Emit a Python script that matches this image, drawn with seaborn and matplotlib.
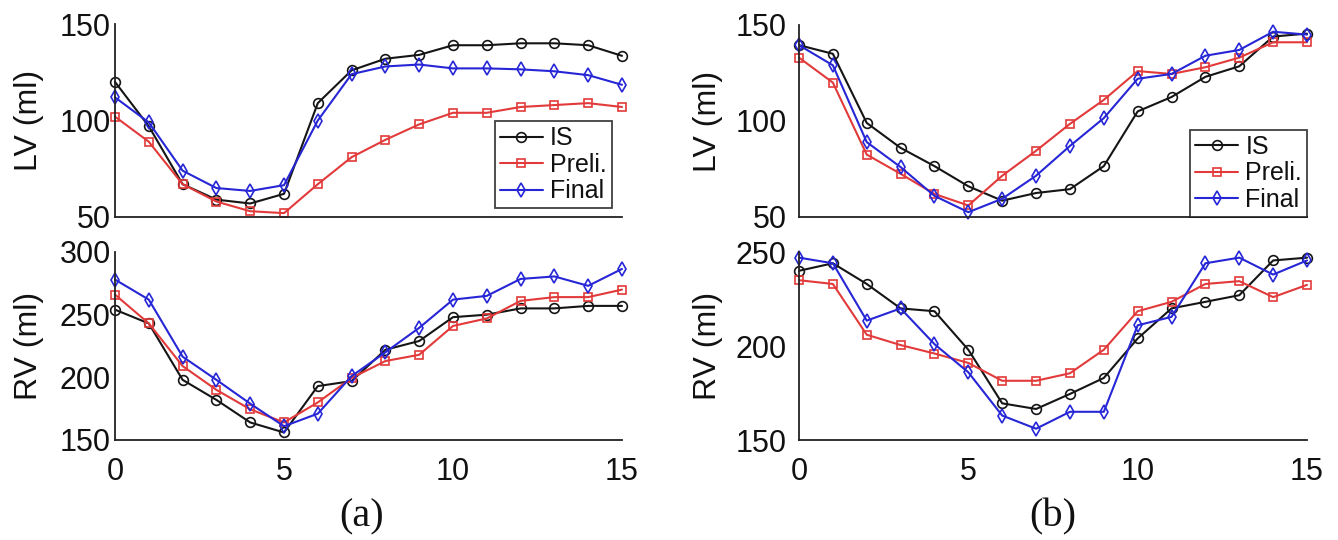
import numpy as np
import pandas as pd
import seaborn as sns
import matplotlib
matplotlib.use("Agg")
import matplotlib.pyplot as plt

# ---------------- data ----------------
frames = list(range(16))
methods = ["IS", "Preli.", "Final"]

a_lv_is = [120, 97, 67, 59, 57, 62, 109, 126, 132, 134, 139, 139, 140, 140, 139, 133.5]
a_lv_pre = [102, 89, 67, 58, 53, 52, 67, 81, 90, 98, 104, 104, 107, 108, 109, 107]
a_lv_fin = [112, 99, 74, 65, 63.5, 66.5, 100, 124, 128, 129, 127, 127, 126.5, 125.5, 123.5, 118.5]

a_rv_is = [254, 243, 198, 182, 164, 156, 193, 197, 222, 229, 248, 250, 255, 255, 257, 257]
a_rv_pre = [266, 243, 209, 190, 174.5, 164, 180, 199.5, 213, 218, 241, 247, 261, 264, 264, 270]
a_rv_fin = [278, 262, 216.5, 198, 179, 161, 171, 201, 220, 239.5, 262, 265, 278.5, 280.5, 273, 286.5]

b_lv_is = [139.5, 135, 99, 86, 76.5, 66, 58.5, 62.5, 64.5, 76.5, 105, 112.5, 123, 128.5, 144, 145.5]
b_lv_pre = [133, 120, 82.5, 72.5, 62, 56, 71.5, 84.5, 98.5, 111, 126, 124.5, 128, 133, 141, 141]
b_lv_fin = [139.5, 129, 89, 76, 61, 52.5, 59.5, 71.5, 87, 101.5, 122, 124.5, 134, 137, 146.5, 145]

b_rv_is = [240, 244, 233, 220, 218.5, 198, 169.5, 166.5, 174.5, 183, 204, 220, 223.5, 227, 245.5, 247]
b_rv_pre = [235, 233, 206, 200.5, 196, 191, 181.5, 181.5, 185.5, 198, 218.5, 223.5, 233, 234.5, 226, 232.5]
b_rv_fin = [247, 244, 213.5, 220, 201, 186, 163, 156, 165, 165, 211, 215.5, 244, 247, 238, 245.5]

lv_ticks = [50, 100, 150]
rv_ticks_a = [150, 200, 250, 300]
rv_ticks_b = [150, 200, 250]
x_ticks = [0, 5, 10, 15]

# ---------------- style ----------------
sns.set_theme(style="white")
plt.rcParams["font.family"] = ["Liberation Sans", "DejaVu Sans"]
plt.rcParams["xtick.direction"] = "in"
plt.rcParams["ytick.direction"] = "in"

colors = {"IS": "#151515", "Preli.": "#e23a3a", "Final": "#2626d6"}
marks = {"IS": "o", "Preli.": "s", "Final": "d"}
msizes = {"IS": 7, "Preli.": 5.8, "Final": 7.5}

W, H = 1338, 540
fig = plt.figure(figsize=(W / 100, H / 100), dpi=100)


def px_axes(x0, x1, ytop, ybot):
    return fig.add_axes([x0 / W, 1 - ybot / H, (x1 - x0) / W, (ybot - ytop) / H])


def draw(ax, series, ylim, yticks, ylabel, show_x, legend, leg_anchor=None,
         ypad=3, lpad=10):
    for m, vals in zip(methods, series):
        df = pd.DataFrame({"frame": frames, "vol": vals})
        sns.lineplot(data=df, x="frame", y="vol", ax=ax, color=colors[m],
                     marker=marks[m], markersize=msizes[m],
                     markerfacecolor="none", markeredgecolor=colors[m],
                     markeredgewidth=1.2, linewidth=1.5, label=m,
                     legend=False, clip_on=False)
    ax.set_xlim(0, 15)
    ax.set_ylim(*ylim)
    ax.set_yticks(yticks)
    ax.set_xticks(x_ticks)
    for s in ["top", "right"]:
        ax.spines[s].set_visible(False)
    for s in ["left", "bottom"]:
        ax.spines[s].set_color("#222222")
        ax.spines[s].set_linewidth(1.3)
    ax.tick_params(axis="both", labelsize=22, length=5, width=1.1,
                   color="#222222", labelcolor="#111111")
    ax.tick_params(axis="y", pad=ypad)
    ax.tick_params(axis="x", pad=12)
    if not show_x:
        ax.tick_params(axis="x", length=0, labelbottom=False)
    ax.set_xlabel("")
    ax.set_ylabel(ylabel, fontsize=23, color="#111111", labelpad=lpad)
    if legend:
        leg = ax.legend(loc="lower right", bbox_to_anchor=leg_anchor,
                        fontsize=18, frameon=True, fancybox=False,
                        edgecolor="#111111", handlelength=1.7,
                        handletextpad=0.3, labelspacing=0.1,
                        borderpad=0.2, borderaxespad=0)
        leg.get_frame().set_linewidth(1.3)
        for t in leg.get_texts():
            t.set_color("#111111")


ax1 = px_axes(115, 622, 24, 217)
draw(ax1, [a_lv_is, a_lv_pre, a_lv_fin], (50, 150), lv_ticks, "LV (ml)", False,
     True, (0.98, 0.045), ypad=3, lpad=11)
ax2 = px_axes(115, 622, 252, 440)
draw(ax2, [a_rv_is, a_rv_pre, a_rv_fin], (150, 300), rv_ticks_a, "RV (ml)", True,
     False, ypad=3, lpad=11)
ax3 = px_axes(799, 1307, 25, 217)
draw(ax3, [b_lv_is, b_lv_pre, b_lv_fin], (50, 150), lv_ticks, "LV (ml)", False,
     True, (1.0, 0.0), ypad=9, lpad=9)
ax4 = px_axes(799, 1307, 252, 440)
draw(ax4, [b_rv_is, b_rv_pre, b_rv_fin], (150, 250), rv_ticks_b, "RV (ml)", True,
     False, ypad=9, lpad=9)

fig.text(362 / W, 1 - 517 / H, "(a)", ha="center", va="center",
         family=["Liberation Serif", "DejaVu Serif"], fontsize=29, color="#111111")
fig.text(1053 / W, 1 - 517 / H, "(b)", ha="center", va="center",
         family=["Liberation Serif", "DejaVu Serif"], fontsize=29, color="#111111")

fig.savefig("out.png", dpi=100, facecolor="white")
